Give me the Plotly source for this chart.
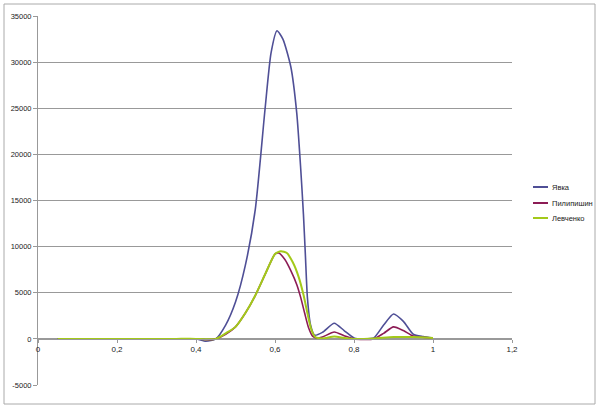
import plotly.graph_objects as go

series_names = ["Явка", "Пилипишин", "Левченко"]
colors = ["#4f4f96", "#8c1c55", "#a3c91a"]

x_yavka = [0.05, 0.1, 0.15, 0.2, 0.25, 0.3, 0.35, 0.4, 0.425, 0.45, 0.475, 0.5, 0.525, 0.55, 0.575,
           0.59, 0.605, 0.62, 0.64, 0.655, 0.665, 0.672, 0.677, 0.682, 0.69, 0.7, 0.72, 0.75, 0.775,
           0.8, 0.825, 0.85, 0.875, 0.9, 0.925, 0.95, 0.975, 1.0]
y_yavka = [0, 0, 0, 0, 0, 0, 0, 0, -250, 0, 1500, 4000, 8000, 14000, 25000,
           31000, 33400, 32500, 29500, 24500, 18500, 13500, 9000, 4500, 1500, 400, 700, 1700, 900,
           100, 0, 100, 1500, 2700, 1900, 500, 250, 100]

x_pyl = [0.05, 0.1, 0.15, 0.2, 0.25, 0.3, 0.35, 0.4, 0.425, 0.45, 0.475, 0.5, 0.525, 0.55, 0.575,
         0.6, 0.61, 0.625, 0.64, 0.655, 0.665, 0.675, 0.685, 0.695, 0.705, 0.72, 0.75, 0.775, 0.8, 0.85,
         0.875, 0.9, 0.925, 0.95, 1.0]
y_pyl = [0, 0, 0, 0, 0, 0, 0, 0, -100, 0, 500, 1300, 2800, 4700, 7000,
         9200, 9300, 8600, 7400, 5900, 4500, 2800, 1200, 300, 100, 200, 750, 350, 0, 0,
         600, 1300, 900, 300, 100]

x_lev = [0.05, 0.1, 0.15, 0.2, 0.25, 0.3, 0.35, 0.4, 0.425, 0.45, 0.475, 0.5, 0.525, 0.55, 0.575,
         0.6, 0.615, 0.63, 0.645, 0.66, 0.672, 0.682, 0.692, 0.702, 0.72, 0.75, 0.775, 0.8, 0.85,
         0.9, 0.95, 1.0]
y_lev = [0, 0, 0, 0, 0, 0, 0, 0, -50, 0, 600, 1300, 2800, 4700, 7000,
         9200, 9500, 9300, 8300, 6700, 4800, 2800, 1000, 200, 50, 250, 100, 0, 50,
         200, 200, 100]

y_ticks = [-5000, 0, 5000, 10000, 15000, 20000, 25000, 30000, 35000]
y_tick_labels = ["-5000", "0", "5000", "10000", "15000", "20000", "25000", "30000", "35000"]
x_ticks = [0, 0.2, 0.4, 0.6, 0.8, 1.0, 1.2]
x_tick_labels = ["0", "0,2", "0,4", "0,6", "0,8", "1", "1,2"]

fig = go.Figure()
for name, xs, ys, c in zip(series_names, [x_yavka, x_pyl, x_lev], [y_yavka, y_pyl, y_lev], colors):
    fig.add_trace(go.Scatter(x=xs, y=ys, mode="lines", name=name, showlegend=False,
                             line=dict(color=c, width=1.6 if c != colors[2] else 2, shape="spline", smoothing=0.6)))

# manual compact legend (Excel style)
PL, PW, PB, PH = 38, 474, 385, 369
def px2x(p):
    return (p - PL) / PW
def py2y(p):
    return (PB - p) / PH

shapes = [dict(type="rect", xref="paper", yref="paper", x0=px2x(4), x1=px2x(595), y0=py2y(404), y1=py2y(4),
               line=dict(color="#aaa", width=1), fillcolor="rgba(0,0,0,0)", layer="below")]
annotations = []
legend_rows = [187, 203, 218]
for name, c, row in zip(series_names, colors, legend_rows):
    shapes.append(dict(type="line", xref="paper", yref="paper", x0=px2x(533), x1=px2x(548),
                       y0=py2y(row), y1=py2y(row), line=dict(color=c, width=2)))
    annotations.append(dict(xref="paper", yref="paper", x=px2x(550), y=py2y(row), text=name,
                            showarrow=False, xanchor="left", yanchor="middle",
                            font=dict(size=7.5, color="#222")))

fig.update_layout(
    width=600, height=408,
    margin=dict(l=38, r=88, t=16, b=23, autoexpand=False),
    paper_bgcolor="white", plot_bgcolor="white",
    font=dict(family="Liberation Sans, Arial, sans-serif", size=8, color="#222"),
    showlegend=False,
    xaxis=dict(range=[0, 1.2], tickvals=x_ticks, ticktext=x_tick_labels, showgrid=False,
               zeroline=False, showline=True, linecolor="#999", linewidth=1,
               ticks="outside", ticklen=3, tickcolor="#999", anchor="free", position=0.125,
               tickfont=dict(size=8)),
    yaxis=dict(range=[-5000, 35000], tickvals=y_ticks, ticktext=y_tick_labels, showgrid=True,
               gridcolor="#999", gridwidth=1, zeroline=False, showline=True, linecolor="#999",
               linewidth=1, ticks="outside", ticklen=4, tickcolor="#999", tickfont=dict(size=7.5)),
    shapes=shapes,
    annotations=annotations,
)

fig.write_html("out.html", config={"displayModeBar": False},
               post_script="document.body.style.margin='0';document.body.style.overflow='hidden';")
